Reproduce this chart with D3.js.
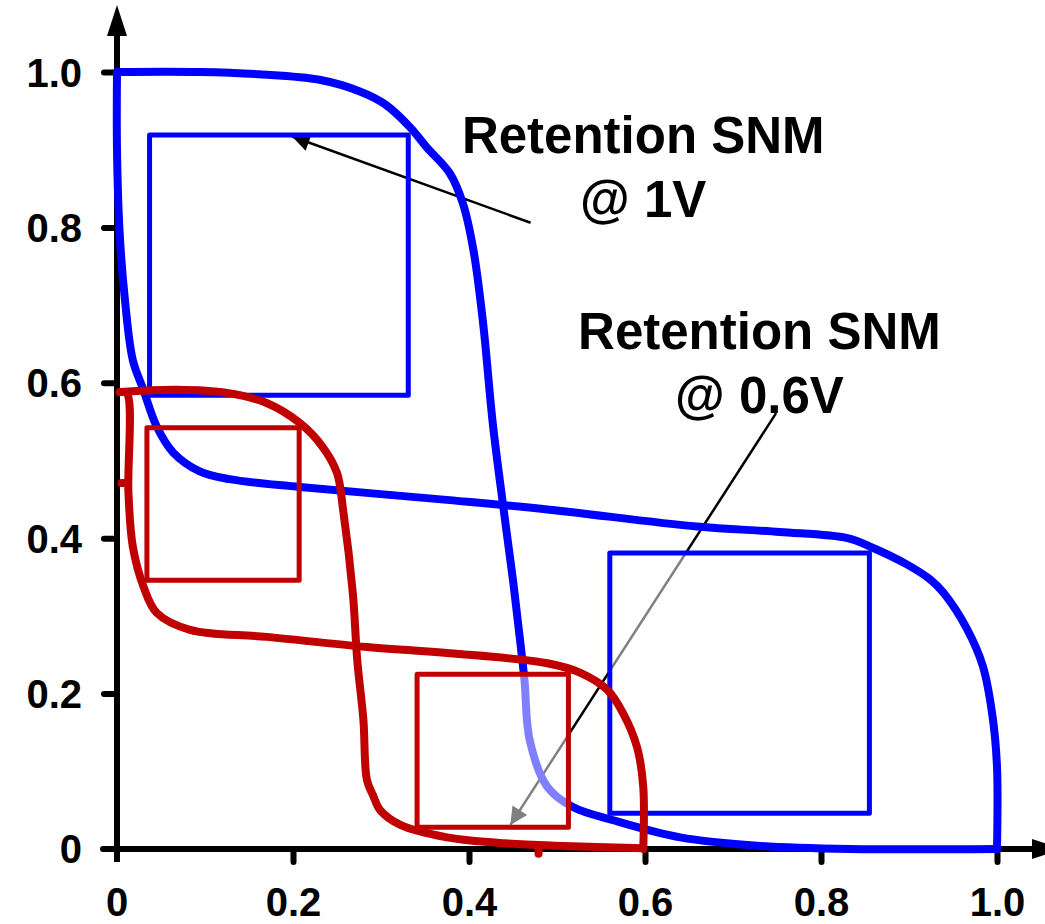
<!DOCTYPE html>
<meta charset="utf-8">
<title>Retention SNM butterfly curves</title>
<style>
body { margin: 0; background: #fff; }
text { font-family: "Liberation Sans", Arial, sans-serif; font-weight: bold; fill: #000; }
.curve { fill: none; stroke-width: 8; stroke-linejoin: round; stroke-linecap: round; }
.box { stroke-width: 5; stroke-linejoin: round; }
.axis line { stroke: #000; stroke-width: 6; stroke-linecap: round; }
.axis path { display: none; }
</style>
<body>
<script src="https://d3js.org/d3.v7.min.js"></script>
<script>
// butterfly curves, [x, y] in volts
var blue1 = [[0,1.0],[0.094,1.0],[0.162,0.997],[0.230,0.990],[0.276,0.975],[0.304,0.959],[0.333,0.929],
  [0.352,0.903],[0.378,0.870],[0.393,0.831],[0.405,0.771],[0.416,0.677],[0.427,0.548],[0.439,0.440],
  [0.450,0.346],[0.458,0.269],[0.463,0.218],[0.469,0.140],[0.489,0.080],[0.518,0.054],[0.564,0.037],
  [0.640,0.015],[0.731,0.004],[0.833,0.0],[1.0,0.0]];
var blue2 = [[0,1.0],[0,0.900],[0.003,0.793],[0.009,0.707],[0.018,0.629],[0.030,0.591],[0.045,0.544],
  [0.064,0.510],[0.094,0.486],[0.128,0.476],[0.208,0.466],[0.378,0.449],[0.489,0.437],[0.659,0.415],
  [0.753,0.408],[0.830,0.400],[0.856,0.389],[0.898,0.366],[0.924,0.347],[0.939,0.330],[0.966,0.283],
  [0.984,0.235],[0.995,0.170],[1.0,0.106],[1.0,0.0]];
var red1 = [[0.003,0.588],[0.068,0.591],[0.125,0.587],[0.170,0.574],[0.208,0.548],[0.234,0.517],
  [0.250,0.484],[0.257,0.436],[0.268,0.329],[0.273,0.243],[0.280,0.166],[0.284,0.089],[0.291,0.069],
  [0.299,0.050],[0.322,0.031],[0.375,0.015],[0.432,0.008],[0.507,0.004],[0.598,0.001]];
var red2 = [[0.003,0.588],[0.011,0.587],[0.013,0.458],[0.018,0.389],[0.030,0.338],[0.045,0.304],
  [0.083,0.282],[0.170,0.273],[0.284,0.260],[0.378,0.252],[0.489,0.239],[0.526,0.227],[0.557,0.205],
  [0.575,0.175],[0.591,0.131],[0.598,0.080],[0.598,0.0]];
// two tiny stray red marks seen in the picture
var redStubs = [[[0.005,0.471],[0.012,0.471]], [[0.479,0.0],[0.479,-0.006]]];

// noise margin squares: x0, x1, y0, y1
var blueBoxes = [[0.037,0.331,0.584,0.919],[0.560,0.855,0.046,0.381]];
var redBoxes = [[0.034,0.207,0.346,0.542],[0.341,0.513,0.028,0.225]];
var veiled = [false, true];   // squares drawn with a faded fill

var ticks = [0, 0.2, 0.4, 0.6, 0.8, 1.0];

// labels: text lines, centre x, baselines y
var labels = [
  {lines: ["Retention SNM", "@ 1V"], x: 0.598, y: [0.896, 0.813]},
  {lines: ["Retention SNM", "@ 0.6V"], x: 0.730, y: [0.644, 0.561]}
];
var arrows = [[[0.470,0.806],[0.199,0.917]], [[0.749,0.561],[0.447,0.031]]];

var W = 1045, H = 924;
var x = d3.scaleLinear().domain([0, 1]).range([117, 997]);
var y = d3.scaleLinear().domain([0, 1]).range([849, 72]);

var svg = d3.select("body").append("svg")
  .attr("width", W).attr("height", H);

svg.append("defs").append("marker")
  .attr("id", "head")
  .attr("viewBox", "0 0 10 10")
  .attr("refX", 10).attr("refY", 5)
  .attr("markerWidth", 9).attr("markerHeight", 7)
  .attr("markerUnits", "strokeWidth")
  .attr("orient", "auto")
  .append("path").attr("d", "M0,0 L10,5 L0,10 z").attr("fill", "#000");

var fmt = function(d) { return d === 0 ? "0" : d3.format(".1f")(d); };

// axes
var ya = svg.append("g").attr("class", "axis")
  .attr("transform", "translate(" + x(0) + ",0)")
  .call(d3.axisLeft(y).tickValues(ticks.slice(1)).tickSize(13).tickFormat(fmt));
ya.selectAll("text").attr("x", -35).attr("dy", "0.35em").style("font-size", "40px");
// label for 0 on the y axis
svg.append("text").attr("x", x(0) - 35).attr("y", y(0)).attr("dy", "0.35em")
  .attr("text-anchor", "end").style("font-size", "40px").text("0");

var xa = svg.append("g").attr("class", "axis")
  .attr("transform", "translate(0," + y(0) + ")")
  .call(d3.axisBottom(x).tickValues(ticks.slice(1)).tickSize(13).tickFormat(fmt));
xa.selectAll("text").attr("y", 67).attr("dy", 0).style("font-size", "40px");
svg.append("text").attr("x", x(0)).attr("y", y(0) + 67)
  .attr("text-anchor", "middle").style("font-size", "40px").text("0");

// axis lines with arrow heads
svg.append("line").attr("x1", x(0)).attr("y1", y(0) + 13).attr("x2", x(0)).attr("y2", 34)
  .attr("stroke", "#000").attr("stroke-width", 6);
svg.append("path").attr("d", "M" + (x(0) - 10) + ",36 L" + x(0) + ",5 L" + (x(0) + 10) + ",36 z");
svg.append("line").attr("x1", x(0) - 14).attr("y1", y(0)).attr("x2", 1034).attr("y2", y(0))
  .attr("stroke", "#000").attr("stroke-width", 6).attr("stroke-linecap", "round");
svg.append("path").attr("d", "M1032," + (y(0) - 10) + " L1063," + y(0) + " L1032," + (y(0) + 10) + " z");

// annotation arrows
svg.selectAll(".arrow").data(arrows).enter().append("line")
  .attr("class", "arrow")
  .attr("x1", function(d) { return x(d[0][0]); })
  .attr("y1", function(d) { return y(d[0][1]); })
  .attr("x2", function(d) { return x(d[1][0]); })
  .attr("y2", function(d) { return y(d[1][1]); })
  .attr("stroke", "#000").attr("stroke-width", 2.5)
  .attr("marker-end", "url(#head)");

var line = d3.line()
  .x(function(d) { return x(d[0]); })
  .y(function(d) { return y(d[1]); })
  .curve(d3.curveCatmullRom.alpha(0.5));

// blue (1V) curves
svg.selectAll(".blue").data([blue1, blue2]).enter().append("path")
  .attr("class", "curve blue").attr("stroke", "#0000ff").attr("d", line);

function drawBoxes(data, color) {
  svg.selectAll(null).data(data).enter().append("rect")
    .attr("class", "box")
    .attr("x", function(d) { return x(d[0]); })
    .attr("y", function(d) { return y(d[3]); })
    .attr("width", function(d) { return x(d[1]) - x(d[0]); })
    .attr("height", function(d) { return y(d[2]) - y(d[3]); })
    .attr("fill", function(d, i) { return veiled[i] ? "#fff" : "none"; })
    .attr("fill-opacity", 0.5)
    .attr("stroke", color);
}
drawBoxes(blueBoxes, "#0000ff");
drawBoxes(redBoxes, "#c00000");

// red (0.6V) curves
svg.selectAll(".red").data([red1, red2]).enter().append("path")
  .attr("class", "curve red").attr("stroke", "#c00000").attr("d", line);
svg.selectAll(".stub").data(redStubs).enter().append("path")
  .attr("class", "curve stub").attr("stroke", "#c00000").attr("stroke-width", 4)
  .attr("d", d3.line().x(function(d) { return x(d[0]); }).y(function(d) { return y(d[1]); }));

// annotation text
labels.forEach(function(l) {
  l.lines.forEach(function(t, i) {
    svg.append("text")
      .attr("x", x(l.x)).attr("y", y(l.y[i]))
      .attr("text-anchor", "middle")
      .style("font-size", "51px")
      .text(t);
  });
});
</script>
</body>
